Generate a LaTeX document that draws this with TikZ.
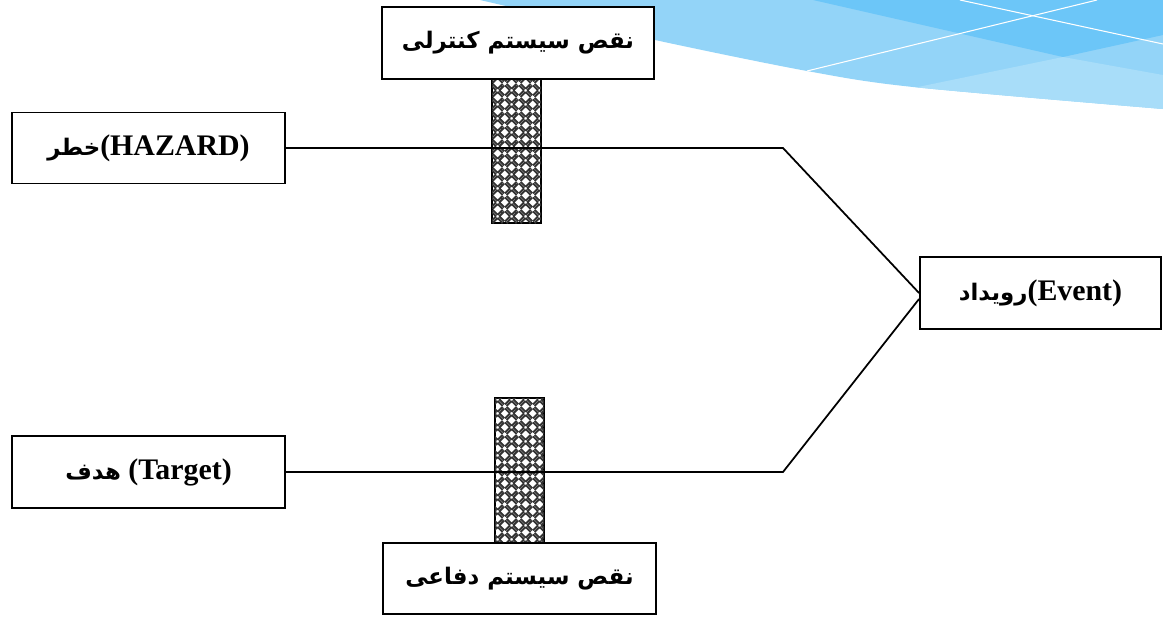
\documentclass[tikz,border=0pt]{standalone}
\usepackage{fontspec}
\setmainfont{Liberation Serif}
\newfontfamily\arabicfont[Script=Arabic]{DejaVu Sans}
\TeXXeTstate=1
\usetikzlibrary{patterns}

\definecolor{swooshlight}{HTML}{93D4F8}
\definecolor{swooshdark}{HTML}{6CC6F8}
\definecolor{swooshpale}{HTML}{A8DDF9}

% weave fill of the two barriers
\pgfdeclarepatternformonly{weave}{\pgfpointorigin}{\pgfpoint{8pt}{8pt}}{\pgfpoint{8pt}{8pt}}{
    \pgfsetlinewidth{1.1pt}
    \pgfpathmoveto{\pgfpoint{0pt}{1pt}}\pgfpathlineto{\pgfpoint{3pt}{4pt}}
    \pgfpathmoveto{\pgfpoint{1pt}{0pt}}\pgfpathlineto{\pgfpoint{4pt}{3pt}}
    \pgfpathmoveto{\pgfpoint{4pt}{3pt}}\pgfpathlineto{\pgfpoint{7pt}{0pt}}
    \pgfpathmoveto{\pgfpoint{5pt}{4pt}}\pgfpathlineto{\pgfpoint{8pt}{1pt}}
    \pgfpathmoveto{\pgfpoint{0pt}{7pt}}\pgfpathlineto{\pgfpoint{3pt}{4pt}}
    \pgfpathmoveto{\pgfpoint{1pt}{8pt}}\pgfpathlineto{\pgfpoint{4pt}{5pt}}
    \pgfpathmoveto{\pgfpoint{4pt}{5pt}}\pgfpathlineto{\pgfpoint{7pt}{8pt}}
    \pgfpathmoveto{\pgfpoint{5pt}{4pt}}\pgfpathlineto{\pgfpoint{8pt}{7pt}}
    \pgfusepath{stroke}
}

\tikzset{
    box/.style={draw, line width=1.1pt, fill=white, minimum width=5.46cm, minimum height=1.42cm,
        inner sep=0pt, font=\fontsize{17}{20}\selectfont\bfseries},
    barrier/.style={draw, line width=1.1pt, fill=white, postaction={pattern=weave, pattern color=black!80}},
    link/.style={line width=1pt}
}

\newcommand{\fa}[1]{{\arabicfont\fontsize{13}{15}\selectfont\bfseries\beginR #1\endR}}

\begin{document}
\begin{tikzpicture}[x=0.02cm, y=-0.02cm]
    \useasboundingbox (0,0) rectangle (1163,616);

    % Background swoosh (slide template)
    \begin{scope}
        \clip (480,0) -- plot[smooth] coordinates {(480,0) (655,40) (807,71) (913,87) (1163,109)} -- (1163,0) -- cycle;
        \fill[swooshlight] (480,0) rectangle (1163,120);
        \fill[swooshdark] (813,0) -- (1063,57) -- (1163,35) -- (1163,0) -- cycle;
        \fill[swooshpale] (913,88) -- (1063,57) -- (1163,75) -- (1163,120) -- (913,120) -- cycle;
        \draw[white, line width=0.6pt] (807,71) -- (1097,0);
        \draw[white, line width=0.6pt] (960,0) -- (1163,44);
    \end{scope}

    % Barriers
    \draw[barrier] (492,79) rectangle (541,223);
    \draw[barrier] (495,398) rectangle (544,543);

    % Boxes
    \node[box, minimum width=5.44cm, minimum height=1.44cm] (control) at (518,43) {\fa{نقص سیستم کنترلی}};
    \node[box] (hazard) at (148.5,148) {\fa{خطر}(HAZARD)};
    \node[box, minimum width=4.82cm, minimum height=1.44cm] (event) at (1040.5,293) {\fa{رویداد}(Event)};
    \node[box, minimum height=1.44cm] (target) at (148.5,472) {\fa{هدف} (Target)};
    \node[box] (defence) at (519.5,578.5) {\fa{نقص سیستم دفاعی}};

    % Lines to the event
    \coordinate (hbend) at (783,148);
    \coordinate (tbend) at (783,472);
    \draw[link] (hazard.east) -- (hbend) -- (event.west);
    \draw[link] (target.east) -- (tbend) -- ([yshift=-0.12cm]event.west);
\end{tikzpicture}
\end{document}
